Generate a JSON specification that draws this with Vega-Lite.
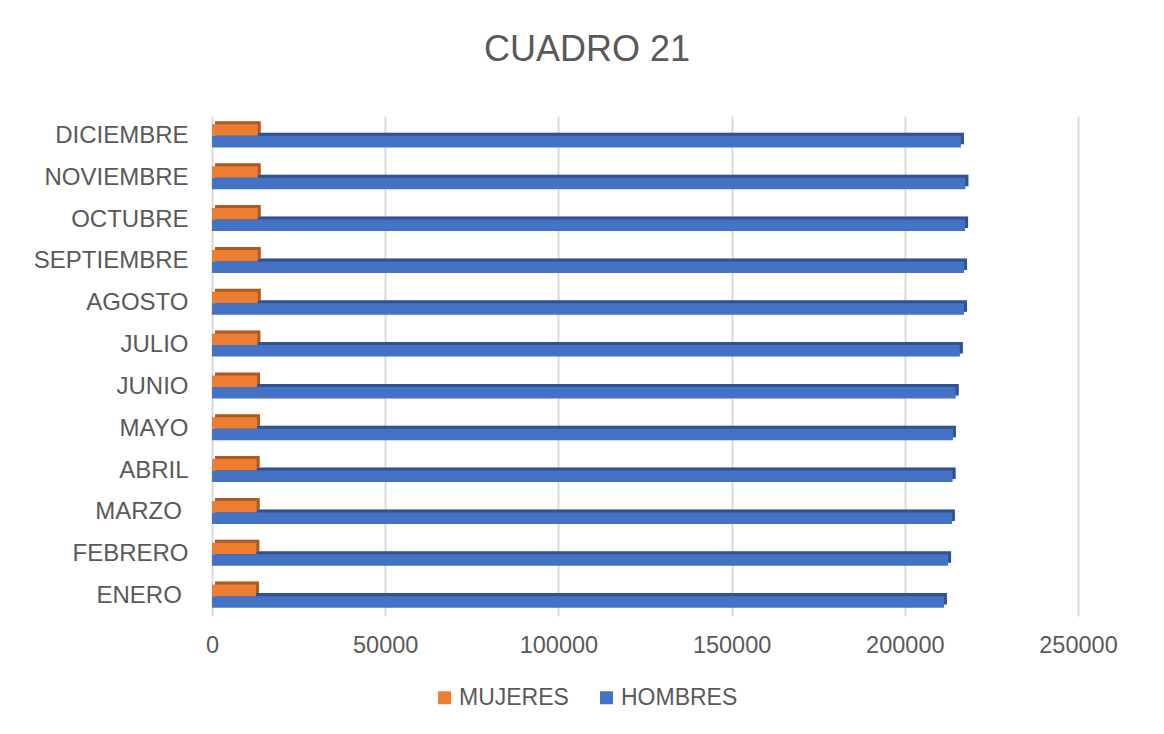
{
  "$schema": "https://vega.github.io/schema/vega-lite/v6.json",
  "autosize": "none",
  "width": 866,
  "height": 500,
  "padding": {"left": 212, "top": 116, "right": 86, "bottom": 118},
  "background": "white",
  "title": {
    "text": "CUADRO 21",
    "fontSize": 36,
    "font": "Liberation Sans",
    "fontWeight": "normal",
    "color": "#595959",
    "anchor": "middle",
    "baseline": "alphabetic",
    "offset": 19,
    "dx": -58
  },
  "data": {
    "values": [
      {"mes": "ENERO ", "sexo": "MUJERES", "valor": 12700},
      {"mes": "ENERO ", "sexo": "HOMBRES", "valor": 211300},
      {"mes": "FEBRERO", "sexo": "MUJERES", "valor": 12800},
      {"mes": "FEBRERO", "sexo": "HOMBRES", "valor": 212500},
      {"mes": "MARZO ", "sexo": "MUJERES", "valor": 12900},
      {"mes": "MARZO ", "sexo": "HOMBRES", "valor": 213600},
      {"mes": "ABRIL", "sexo": "MUJERES", "valor": 12900},
      {"mes": "ABRIL", "sexo": "HOMBRES", "valor": 213800},
      {"mes": "MAYO", "sexo": "MUJERES", "valor": 13000},
      {"mes": "MAYO", "sexo": "HOMBRES", "valor": 213900},
      {"mes": "JUNIO", "sexo": "MUJERES", "valor": 13000},
      {"mes": "JUNIO", "sexo": "HOMBRES", "valor": 214700},
      {"mes": "JULIO", "sexo": "MUJERES", "valor": 13100},
      {"mes": "JULIO", "sexo": "HOMBRES", "valor": 215900},
      {"mes": "AGOSTO", "sexo": "MUJERES", "valor": 13200},
      {"mes": "AGOSTO", "sexo": "HOMBRES", "valor": 217100},
      {"mes": "SEPTIEMBRE", "sexo": "MUJERES", "valor": 13200},
      {"mes": "SEPTIEMBRE", "sexo": "HOMBRES", "valor": 217100},
      {"mes": "OCTUBRE", "sexo": "MUJERES", "valor": 13200},
      {"mes": "OCTUBRE", "sexo": "HOMBRES", "valor": 217400},
      {"mes": "NOVIEMBRE", "sexo": "MUJERES", "valor": 13200},
      {"mes": "NOVIEMBRE", "sexo": "HOMBRES", "valor": 217500},
      {"mes": "DICIEMBRE", "sexo": "MUJERES", "valor": 13200},
      {"mes": "DICIEMBRE", "sexo": "HOMBRES", "valor": 216200}
    ]
  },
  "encoding": {
    "y": {
      "field": "mes",
      "type": "nominal",
      "sort": ["DICIEMBRE", "NOVIEMBRE", "OCTUBRE", "SEPTIEMBRE", "AGOSTO", "JULIO", "JUNIO", "MAYO", "ABRIL", "MARZO ", "FEBRERO", "ENERO "],
      "scale": {"paddingInner": 0.45, "paddingOuter": 0.2},
      "axis": {
        "title": null,
        "domain": false,
        "ticks": false,
        "labelPadding": 24,
        "labelFontSize": 24,
        "labelFont": "Liberation Sans",
        "labelColor": "#595959",
        "labelExpr": "replace(datum.value, ' ', '\u00a0\u200b')"
      }
    },
    "x": {
      "field": "valor",
      "type": "quantitative",
      "scale": {"domain": [0, 250000], "nice": false},
      "axis": {
        "title": null,
        "values": [0, 50000, 100000, 150000, 200000, 250000],
        "format": "d",
        "domain": false,
        "ticks": false,
        "grid": true,
        "gridColor": "#d9d9d9",
        "gridWidth": 2,
        "labelFlush": false,
        "labelPadding": 17,
        "labelFontSize": 23.5,
        "labelFont": "Liberation Sans",
        "labelColor": "#595959"
      }
    },
    "color": {
      "field": "sexo",
      "type": "nominal",
      "scale": {"domain": ["MUJERES", "HOMBRES"], "range": ["#ED7D31", "#4472C4"]},
      "legend": {
        "title": null,
        "orient": "none",
        "direction": "horizontal",
        "legendX": 221,
        "legendY": 570,
        "symbolType": "square",
        "symbolSize": 169,
        "symbolStrokeWidth": 0,
        "symbolOpacity": 1,
        "labelFontSize": 23,
        "labelFont": "Liberation Sans",
        "labelColor": "#595959",
        "labelOffset": 3,
        "columnPadding": 26
      }
    }
  },
  "layer": [
    {
      "layer": [
        {
          "mark": {"type": "bar", "xOffset": 3}
        },
        {
          "mark": {"type": "bar", "xOffset": 3, "opacity": 0.28},
          "encoding": {"color": {"value": "#000000"}}
        }
      ],
      "encoding": {
        "yOffset": {
          "field": "sexo",
          "type": "nominal",
          "sort": ["MUJERES", "HOMBRES"],
          "scale": {"range": [-3, 20]}
        }
      }
    },
    {
      "mark": {"type": "bar"},
      "encoding": {
        "yOffset": {
          "field": "sexo",
          "type": "nominal",
          "sort": ["MUJERES", "HOMBRES"]
        }
      }
    }
  ],
  "resolve": {"scale": {"yOffset": "independent"}},
  "config": {
    "view": {"stroke": null},
    "font": "Liberation Sans"
  }
}
